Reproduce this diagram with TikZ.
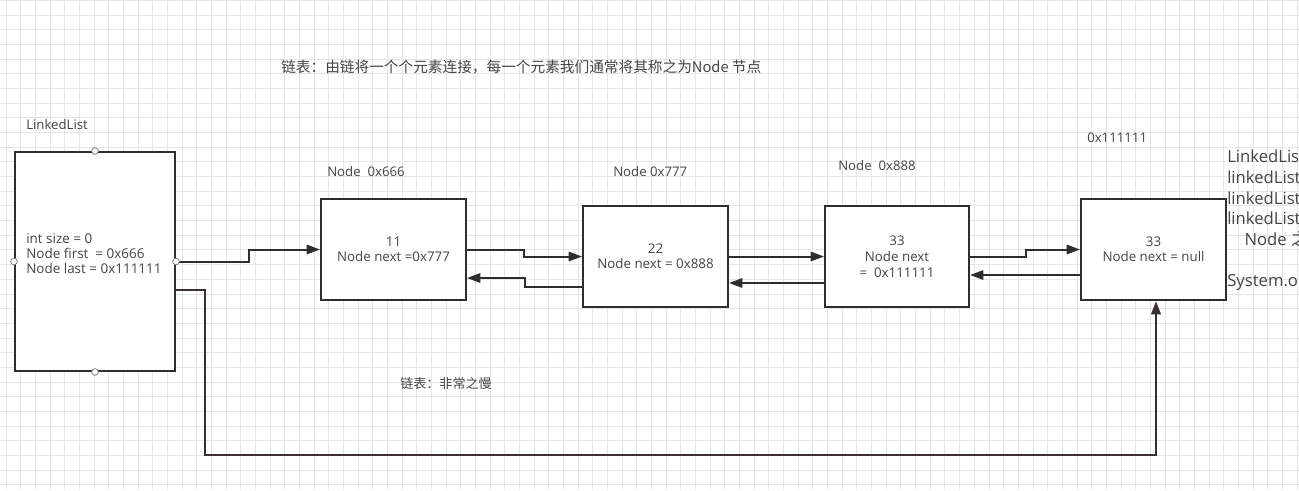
\documentclass[tikz,border=0pt]{standalone}
\usepackage{fontspec}
\setmainfont{Open Sans}
\newfontfamily\cjk{Noto Sans CJK SC}
\usetikzlibrary{arrows.meta,calc}

\definecolor{linecol}{HTML}{2E2E2E}
\definecolor{txtcol}{HTML}{444444}
\definecolor{gridcol}{HTML}{E6E6E6}
\definecolor{longcol}{HTML}{3A2F34}

\tikzset{
  box/.style={draw=linecol, line width=1.5pt, fill=white, align=center, inner sep=0pt,
    text=txtcol, font=\fontsize{10}{11.5}\selectfont},
  lbl/.style={anchor=west, inner sep=0pt, text=txtcol, font=\fontsize{9.9}{11}\selectfont},
  link/.style={draw=linecol, line width=1.5pt, -{Triangle[length=10pt,width=7pt]}},
  handle/.style={circle, draw=gray, fill=white, line width=0.6pt, inner sep=0pt, minimum size=5pt},
}

\begin{document}
\begin{tikzpicture}[x=0.75pt,y=-0.75pt]
			\useasboundingbox (0,0) rectangle (1299,490);
			% Grid
			\fill[white] (0,0) rectangle (1299,490);
			\foreach \gx in {0,...,88} {
				\draw[gridcol, line width=0.6pt] (6+14.67*\gx,0) -- (6+14.67*\gx,490);
			}
			\foreach \gy in {0,...,33} {
				\draw[gridcol, line width=0.6pt] (0,0.5+14.67*\gy) -- (1299,0.5+14.67*\gy);
			}

			% Titles
			\node[lbl, font=\cjk\fontsize{11}{13}\selectfont] (title) at (281,67) {链表：由链将一个个元素连接，每一个元素我们通常将其称之为Node 节点};
			\node[lbl, font=\cjk\fontsize{9.8}{12}\selectfont] (slow) at (400,383) {链表：非常之慢};

			% Nodes
			\node[box, minimum width=120pt, minimum height=164.25pt] (list) at (95,261.5) {};
			\node[lbl, align=left, font=\fontsize{10.1}{11.25}\selectfont] (fields) at (26,254)
				{int size = 0\\Node first\ \ = 0x666\\Node last = 0x111111};
			\node[box, minimum width=108.75pt, minimum height=75.75pt] (n1) at (393.5,249.5) {11\\Node next =0x777};
			\node[box, minimum width=108.75pt, minimum height=75.75pt] (n2) at (655.5,256.5) {22\\Node next = 0x888};
			\node[box, minimum width=108pt, minimum height=75.75pt, font=\fontsize{10}{12}\selectfont] (n3) at (897,256.5) {33\\Node next\\=\ \ 0x111111};
			\node[box, minimum width=108.75pt, minimum height=75.75pt] (n4) at (1153.5,249.5) {33\\Node next = null};

			% Labels
			\node[lbl] (listname) at (26,125) {LinkedList};
			\node[lbl] (addr1) at (327,172) {Node\ \ 0x666};
			\node[lbl] (addr2) at (613,172) {Node 0x777};
			\node[lbl] (addr3) at (838,166) {Node\ \ 0x888};
			\node[lbl] (addr4) at (1087,138) {0x111111};

			% Links
			\draw[link] (list.east) -- ++(73,0) |- (n1.west);
			\draw[link] (n1.east) -- ++(57,0) |- (n2.west);
			\draw[link] ($(n2.west)+(0,30.5)$) -- ++(-57,0) |- ($(n1.east)+(0,28.5)$);
			\draw[link] (n2.east) -- (n3.west);
			\draw[link] ($(n3.west)+(0,26.5)$) -- ($(n2.east)+(0,26.5)$);
			\draw[link] (n3.east) -- ++(56,0) |- (n4.west);
			\draw[link] ($(n4.west)+(0,25.5)$) -- ($(n3.east)+(0,18.5)$);
			\draw[link, draw=longcol, line width=2pt] ($(list.east)+(0,28.5)$) -- ++(29,0) -- ++(0,165) -| ($(n4.south)+(2.5,0)$);

			% Handles
			\node[handle] (hn) at (list.north) {};
			\node[handle] (hw) at (list.west) {};
			\node[handle] (he) at (list.east) {};
			\node[handle] (hs) at (list.south) {};

			% Cut-off notes
			\begin{scope}
				\clip (0,0) rectangle (1299,490);
				\node[anchor=north west, align=left, inner sep=0pt, text=txtcol, font=\fontsize{12.5}{15.4}\selectfont] (notes) at (1227,150)
					{LinkedList\\linkedList\\linkedList\\linkedList\\\ \ \ \ Node {\cjk 之}\\[15.4pt]System.o};
			\end{scope}
		\end{tikzpicture}
\end{document}
